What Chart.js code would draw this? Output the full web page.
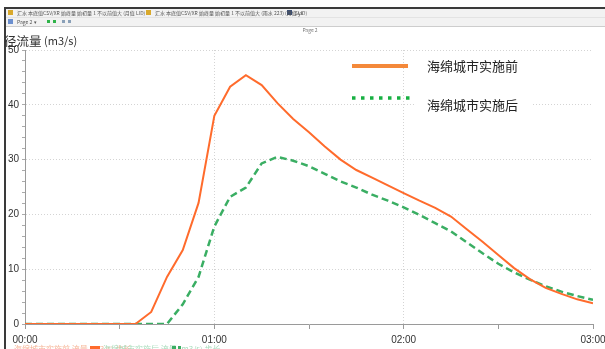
<!DOCTYPE html>
<html>
<head>
<meta charset="utf-8">
<script src="https://cdn.jsdelivr.net/npm/chart.js@4.4.0/dist/chart.umd.min.js"></script>
<style>
  html, body { margin: 0; padding: 0; background: #fff; overflow: hidden; }
  #wrap { width: 605px; height: 349px; position: relative; }
</style>
</head>
<body>
<div id="wrap"><canvas id="chart" width="605" height="349"></canvas></div>
<script>
// time in minutes from 00:00
const minutes = [0, 5, 10, 15, 20, 25, 30, 35, 40, 45, 50, 55, 60, 65, 70, 75, 80, 85, 90,
                 95, 100, 105, 110, 115, 120, 125, 130, 135, 140, 145, 150, 155, 160, 165, 170, 175, 180];
// runoff (m3/s)
const before = [0, 0, 0, 0, 0, 0, 0, 0, 2.2, 8.6, 13.5, 22.1, 38.0, 43.3, 45.4, 43.6, 40.3, 37.4, 35.0,
                32.4, 30.0, 28.1, 26.7, 25.3, 23.9, 22.5, 21.2, 19.6, 17.3, 15.0, 12.6, 10.2, 8.2, 6.6, 5.5, 4.5, 3.8];
const after = [0, 0, 0, 0, 0, 0, 0, 0, 0, 0, 3.6, 8.6, 17.8, 23.2, 24.9, 29.3, 30.5, 29.8, 28.8,
               27.4, 26.0, 24.9, 23.6, 22.5, 21.3, 19.9, 18.4, 16.9, 14.9, 12.9, 11.0, 9.4, 8.1, 6.9, 5.9, 5.1, 4.4];
const seriesNames = ['海绵城市实施前', '海绵城市实施后'];
const hourLabels = ['00:00', '01:00', '02:00', '03:00'];

const cjk = '"Noto Sans CJK SC", "Noto Sans", sans-serif';

function fmtTime(v) {
    if (v % 60 !== 0) return '';
    return hourLabels[v / 60];
}

// window frame, toolbar, title and the cut-off legend strip at the bottom
const framePlugin = {
    id: 'frame',
    beforeDraw(chart) {
        const ctx = chart.ctx;
        ctx.save();
        ctx.fillStyle = '#fff';
        ctx.fillRect(0, 0, chart.width, chart.height);

        // toolbar band
        ctx.fillStyle = '#f2f2f2';
        ctx.fillRect(6, 9, 599, 17);
        ctx.fillStyle = '#e3e3e3';
        ctx.fillRect(6, 17, 599, 1);
        ctx.fillStyle = '#cdcdcd';
        ctx.fillRect(6, 26, 599, 1);

        // frame lines
        ctx.fillStyle = '#3a3a3a';
        ctx.fillRect(4, 7, 601, 2);
        ctx.fillRect(4, 7, 2, 342);

        // toolbar icons + text
        ctx.fillStyle = '#d9a92c';
        ctx.fillRect(8, 10, 5, 5);
        ctx.fillRect(146, 10, 5, 5);
        ctx.fillStyle = '#3d4f72';
        ctx.fillRect(287, 10, 5, 5);
        ctx.fillStyle = '#6b8fcf';
        ctx.fillRect(8, 19, 5, 5);
        ctx.fillStyle = '#2fb34a';
        ctx.fillRect(47, 20, 3, 3);
        ctx.fillRect(53, 20, 3, 3);
        ctx.fillStyle = '#8aa0b8';
        ctx.fillRect(62, 20, 3, 3);
        ctx.fillRect(68, 20, 3, 3);

        ctx.fillStyle = '#555';
        ctx.font = '5px ' + cjk;
        ctx.textBaseline = 'middle';
        ctx.textAlign = 'left';
        ctx.fillText('汇水 本底值CSV/XR 始终量 始初量 1 不以前值大 (月值 LID)', 17, 13);
        ctx.fillText('汇水 本底值CSV/XR 始终量 始初量 1 不以前值大 (雨水 223) (月值 LID)', 155, 13);
        ctx.fillText('Sys', 295, 13);
        ctx.fillText('Page 2  ▾', 17, 22);
        ctx.textAlign = 'center';
        ctx.fillStyle = '#777';
        ctx.fillText('Page 2', 310, 30);

        // title
        ctx.textAlign = 'left';
        ctx.fillStyle = '#333';
        ctx.font = '12.5px ' + cjk;
        ctx.fillText('径流量', 4, 41);
        ctx.font = '11px ' + cjk;
        ctx.fillText('(m3/s)', 44, 41);

        // bottom cut-off legend strip
        ctx.textBaseline = 'top';
        ctx.font = '8px ' + cjk;
        ctx.fillStyle = '#f6b597';
        ctx.fillText('海绵城市实施前 流量 (m3/s) 步长', 14, 345);
        ctx.fillStyle = '#ff6b2c';
        ctx.fillRect(90, 346, 10, 3);
        ctx.fillStyle = '#a9dcbc';
        ctx.fillText('海绵城市实施后 流量 (m3/s) 步长', 103, 345);
        ctx.fillStyle = '#3aae63';
        ctx.fillRect(172, 346, 4, 3);
        ctx.fillRect(178, 346, 3, 3);
        ctx.restore();
    }
};

// legend placed inside the plot area
const legendPlugin = {
    id: 'innerLegend',
    afterDraw(chart) {
        const ctx = chart.ctx;
        const ds = chart.data.datasets;
        ctx.save();
        ctx.fillStyle = '#fff';
        ctx.fillRect(415, 52, 118, 66);

        ctx.strokeStyle = ds[0].legendColor;
        ctx.lineWidth = 4;
        ctx.beginPath();
        ctx.moveTo(352, 66);
        ctx.lineTo(408, 66);
        ctx.stroke();

        ctx.strokeStyle = ds[1].legendColor;
        ctx.lineWidth = 3.5;
        ctx.setLineDash([3.5, 5.5]);
        ctx.beginPath();
        ctx.moveTo(352, 98);
        ctx.lineTo(410, 98);
        ctx.stroke();
        ctx.setLineDash([]);

        ctx.fillStyle = '#222';
        ctx.font = '13px ' + cjk;
        ctx.textBaseline = 'middle';
        ctx.textAlign = 'left';
        ctx.fillText(ds[0].label, 427, 66);
        ctx.fillText(ds[1].label, 427, 105);
        ctx.restore();
    }
};

const ctx = document.getElementById('chart').getContext('2d');
new Chart(ctx, {
    type: 'line',
    data: {
        datasets: [
            {
                label: seriesNames[0],
                data: minutes.map((m, i) => ({ x: m, y: before[i] })),
                borderColor: '#ff6b2c',
                legendColor: '#f4893a',
                borderWidth: 2,
                pointRadius: 0,
                tension: 0,
                fill: false
            },
            {
                label: seriesNames[1],
                data: minutes.map((m, i) => ({ x: m, y: after[i] })),
                borderColor: '#3aae63',
                legendColor: '#17b042',
                borderWidth: 2.5,
                borderDash: [7, 4],
                pointRadius: 0,
                tension: 0,
                fill: false
            }
        ]
    },
    options: {
        responsive: false,
        animation: false,
        layout: { padding: { left: 0, top: 50, right: 12, bottom: 0 } },
        plugins: {
            legend: { display: false },
            tooltip: { enabled: false },
            title: { display: false }
        },
        scales: {
            x: {
                type: 'linear',
                min: 0,
                max: 180,
                afterFit(scale) {
                    scale.height = 25;
                    scale.paddingLeft = 0;
                    scale.paddingRight = 0;
                },
                ticks: {
                    stepSize: 30,
                    autoSkip: false,
                    maxRotation: 0,
                    padding: 5,
                    color: '#333',
                    font: { family: 'Liberation Sans, Arial, sans-serif', size: 10 },
                    callback: v => fmtTime(v)
                },
                grid: {
                    color: c => (c.tick && c.tick.value % 60 === 0 && c.tick.value > 0 && c.tick.value < 180) ? '#d4d4d4' : 'transparent',
                    tickColor: '#999',
                    tickLength: 5,
                    lineWidth: 1
                },
                border: { color: '#9a9a9a', width: 1, dash: [1, 2] }
            },
            y: {
                min: 0,
                max: 50,
                afterFit(scale) {
                    scale.width = 25;
                },
                ticks: {
                    stepSize: 2,
                    autoSkip: false,
                    padding: 3,
                    color: '#333',
                    font: { family: 'Liberation Sans, Arial, sans-serif', size: 10 },
                    callback: v => (v % 10 === 0 ? String(v) : '')
                },
                grid: {
                    color: c => (c.tick && c.tick.value % 10 === 0 && c.tick.value > 0) ? '#d4d4d4' : 'transparent',
                    tickColor: '#aaa',
                    tickLength: 3,
                    lineWidth: 1
                },
                border: { color: '#9a9a9a', width: 1, dash: [1, 2] }
            }
        }
    },
    plugins: [framePlugin, legendPlugin]
});
</script>
</body>
</html>
